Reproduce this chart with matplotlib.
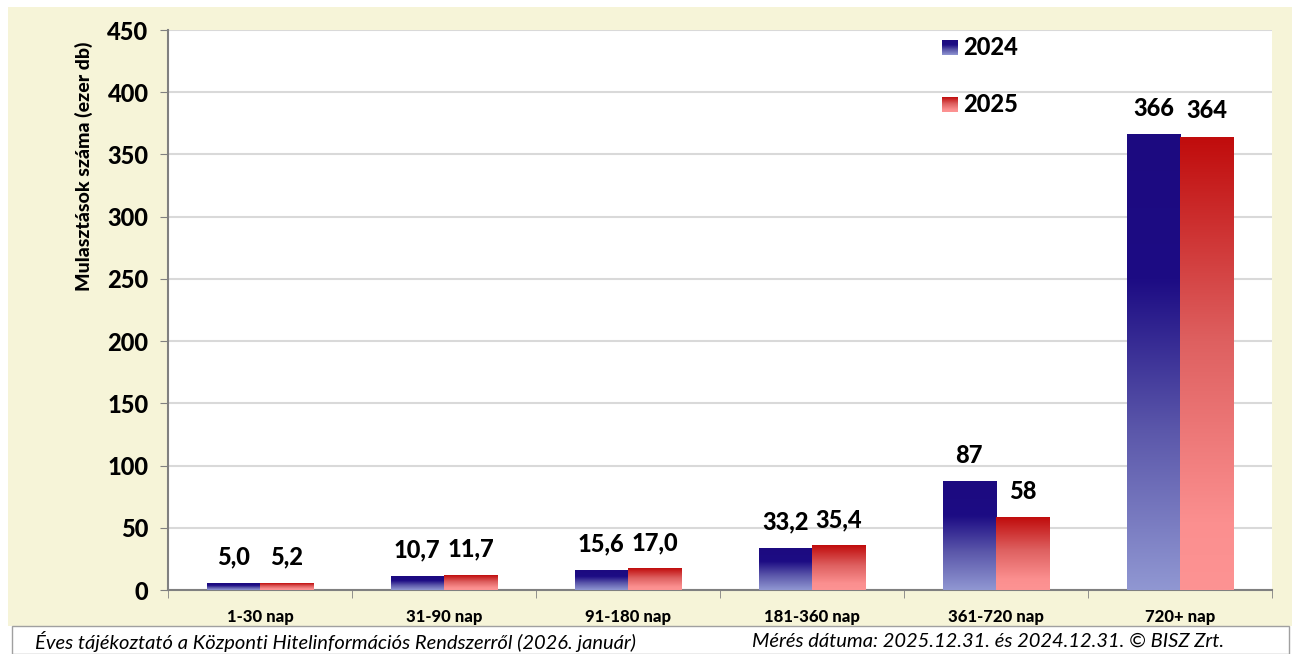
import numpy as np
import matplotlib.pyplot as plt
from matplotlib.colors import LinearSegmentedColormap
from matplotlib.patches import Rectangle

plt.rcParams['font.family'] = ['Lato', 'DejaVu Sans']
BOLD = 'black'

categories = ['1-30 nap', '31-90 nap', '91-180 nap', '181-360 nap', '361-720 nap', '720+ nap']
vals_2024 = [5.0, 10.7, 15.6, 33.2, 87, 366]
vals_2025 = [5.2, 11.7, 17.0, 35.4, 58, 364]
labels_2024 = ['5,0', '10,7', '15,6', '33,2', '87', '366']
labels_2025 = ['5,2', '11,7', '17,0', '35,4', '58', '364']
series = ['2024', '2025']

# gradients: value 0 = bottom of bar, 1 = top
blue_cmap = LinearSegmentedColormap.from_list(
    'b', [(0, '#9097D2'), (0.35, '#5B57AA'), (0.68, '#1D0C84'), (1, '#1C0A80')])
red_cmap = LinearSegmentedColormap.from_list(
    'r', [(0, '#FD9393'), (0.15, '#FB8F8F'), (0.55, '#DE6060'), (1, '#C00C0C')])

fig = plt.figure(figsize=(12.92, 6.54), dpi=100, facecolor='white')
W, H = 1292, 654
# beige background panel
fig.patches.append(Rectangle((8 / W, 28 / H), 1 - 8 / W, (626 - 7) / H,
                             transform=fig.transFigure, facecolor='#F6F4D8',
                             edgecolor='none', zorder=-10))
# footer box
fig.patches.append(Rectangle((12 / W, 0), (1289 - 12) / W, 28 / H,
                             transform=fig.transFigure, facecolor='white',
                             edgecolor='#A0A0A0', linewidth=1, zorder=-9))

ax = fig.add_axes([168 / W, 1 - 590 / H, 1104 / W, 560 / H])
ax.set_facecolor('white')

grad = np.linspace(0, 1, 256).reshape(-1, 1)
bw = 0.29
x = np.arange(len(categories))
for i in x:
    for v, cmap, off, lab in ((vals_2024[i], blue_cmap, -bw, labels_2024[i]),
                              (vals_2025[i], red_cmap, 0, labels_2025[i])):
        ax.imshow(grad, cmap=cmap, origin='lower', aspect='auto',
                  extent=[i + off, i + off + bw, 0, v], zorder=3, interpolation='bilinear')
        ax.text(i + off + bw / 2, v + 12, lab, ha='center', va='bottom',
                fontsize=17, fontweight=BOLD, color='black', zorder=4)

ax.set_xlim(-0.5, len(categories) - 0.5)
ax.set_ylim(0, 450)
ax.set_yticks(range(0, 451, 50))
ax.tick_params(axis='y', labelsize=17, length=6, color='#808080', pad=8)
for t in ax.get_yticklabels():
    t.set_fontweight(BOLD)
ax.set_xticks(x)
ax.set_xticklabels(categories, fontsize=12, fontweight=BOLD)
ax.set_xticks(np.arange(-0.5, len(categories)), minor=True)
ax.tick_params(axis='x', which='major', length=0, pad=14)
ax.tick_params(axis='x', which='minor', length=6, color='#808080')
ax.grid(axis='y', color='#D9D9D9', linewidth=1.5, zorder=0)
ax.set_axisbelow(True)
for s in ['top', 'right']:
    ax.spines[s].set_visible(False)
ax.spines['left'].set_color('#808080')
ax.spines['bottom'].set_color('#808080')
ax.spines['left'].set_linewidth(1.5)
ax.spines['bottom'].set_linewidth(1.5)
ax.set_ylabel('Mulasztások száma (ezer db)', fontsize=14, fontweight=BOLD)
ax.yaxis.set_label_coords(-75 / 1104, 0.757)

# legend drawn by hand with gradient squares
for k, (name, cmap) in enumerate(zip(series, [blue_cmap, red_cmap])):
    y0 = 1 - (55 + k * 57 - 30) / 560
    x0 = (942 - 168) / 1104
    ax.imshow(grad, cmap=cmap, origin='lower', aspect='auto',
              extent=[x0, x0 + 16 / 1104, y0, y0 + 15 / 560],
              transform=ax.transAxes, zorder=5)
    ax.text(x0 + 21 / 1104, y0 + 7.5 / 560, name, transform=ax.transAxes,
            fontsize=17, fontweight=BOLD, va='center', ha='left')
ax.set_xlim(-0.5, len(categories) - 0.5)
ax.set_ylim(0, 450)

fig.text(35 / W, 13 / H, 'Éves tájékoztató a Központi Hitelinformációs Rendszerről (2026. január)',
         fontsize=14.5, style='italic', va='center', ha='left')
fig.text(752 / W, 13 / H, 'Mérés dátuma: 2025.12.31. és 2024.12.31. © BISZ Zrt.',
         fontsize=14.5, style='italic', va='center', ha='left')

fig.savefig('out.png', dpi=100, facecolor=fig.get_facecolor())
